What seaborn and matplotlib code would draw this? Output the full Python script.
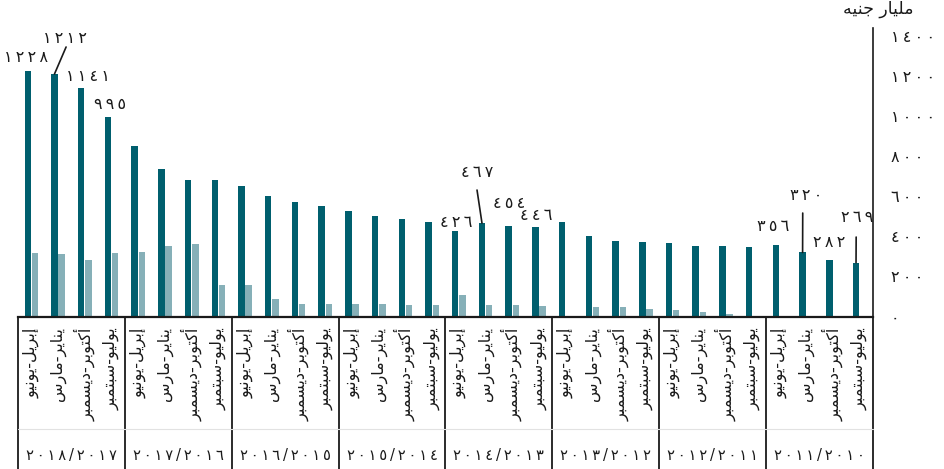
import matplotlib
matplotlib.use("Agg")
import matplotlib.pyplot as plt
import matplotlib.transforms as mtransforms
import seaborn as sns
import pandas as pd

# ---------------- data (left to right, as drawn) ----------------
years = ['٢٠١٨/٢٠١٧', '٢٠١٧/٢٠١٦', '٢٠١٦/٢٠١٥', '٢٠١٥/٢٠١٤',
         '٢٠١٤/٢٠١٣', '٢٠١٣/٢٠١٢', '٢٠١٢/٢٠١١', '٢٠١١/٢٠١٠']
quarters = ['إبريل-يونيو', 'يناير-مارس', 'أكتوبر-ديسمبر', 'يوليو-سبتمبر']
dark_values = [1228, 1212, 1141, 995, 854, 737, 682, 682,
               652, 602, 571, 552, 525, 503, 487, 473,
               426, 467, 454, 446, 473, 400, 378, 372,
               368, 352, 350, 345, 356, 320, 282, 269]
light_values = [316, 314, 282, 317, 324, 351, 364, 156,
                156, 87, 61, 62, 62, 62, 59, 59,
                106, 57, 57, 54, 0, 49, 46, 37,
                32, 22, 12, 0, 0, 0, 0, 0]
labelled = [0, 1, 2, 3, 16, 17, 18, 19, 28, 29, 30, 31]
unit_label = 'مليار جنيه'
y_ticks = [0, 200, 400, 600, 800, 1000, 1200, 1400]

# ---------------- Arabic shaping helpers ----------------
FORMS = {
    '\u0627': ('\uFE8D', '\uFE8E', None, None),
    '\u0623': ('\uFE83', '\uFE84', None, None),
    '\u0625': ('\uFE87', '\uFE88', None, None),
    '\u062F': ('\uFEA9', '\uFEAA', None, None),
    '\u0631': ('\uFEAD', '\uFEAE', None, None),
    '\u0648': ('\uFEED', '\uFEEE', None, None),
    '\u0628': ('\uFE8F', '\uFE90', '\uFE91', '\uFE92'),
    '\u062A': ('\uFE95', '\uFE96', '\uFE97', '\uFE98'),
    '\u062C': ('\uFE9D', '\uFE9E', '\uFE9F', '\uFEA0'),
    '\u0633': ('\uFEB1', '\uFEB2', '\uFEB3', '\uFEB4'),
    '\u0643': ('\uFED9', '\uFEDA', '\uFEDB', '\uFEDC'),
    '\u0644': ('\uFEDD', '\uFEDE', '\uFEDF', '\uFEE0'),
    '\u0645': ('\uFEE1', '\uFEE2', '\uFEE3', '\uFEE4'),
    '\u0646': ('\uFEE5', '\uFEE6', '\uFEE7', '\uFEE8'),
    '\u0647': ('\uFEE9', '\uFEEA', '\uFEEB', '\uFEEC'),
    '\u064A': ('\uFEF1', '\uFEF2', '\uFEF3', '\uFEF4'),
}


def shape(s):
    out = []
    for i, c in enumerate(s):
        if c not in FORMS:
            out.append(c)
            continue
        iso, fin, ini, med = FORMS[c]
        prev = s[i - 1] if i > 0 else ''
        nxt = s[i + 1] if i + 1 < len(s) else ''
        jp = prev in FORMS and FORMS[prev][2] is not None
        jn = ini is not None and nxt in FORMS
        if jp and jn:
            out.append(med)
        elif jp:
            out.append(fin)
        elif jn:
            out.append(ini)
        else:
            out.append(iso)
    return ''.join(reversed(out))


DIG = str.maketrans('0123456789', '٠١٢٣٤٥٦٧٨٩')
THIN = '\u2009'


def spaced(s):
    return THIN.join(s)


def ar_num(v):
    return spaced(str(v).translate(DIG))


# ---------------- long-form table ----------------
n = len(dark_values)
periods = [f'p{i:02d}' for i in range(n)]
df = pd.DataFrame({
    'period': periods * 2,
    'value': dark_values + light_values,
    'series': ['a'] * n + ['b'] * n,
})

DARK = '#005f6e'
LIGHT = '#86b0b8'
INK = '#1a1a1a'

sns.set_style('white')
plt.rcParams['font.family'] = ['DejaVu Sans']

fig = plt.figure(figsize=(9.45, 4.69), dpi=100)
W, H = 945, 469
ax = fig.add_axes([18 / W, (H - 316.5) / H, 855 / W, 288.5 / H])

sns.barplot(data=df, x='period', y='value', hue='series', order=periods,
            hue_order=['a', 'b'], palette={'a': DARK, 'b': LIGHT},
            width=0.54, gap=0.1, dodge=True, legend=False, ax=ax,
            saturation=1, linewidth=0)

ax.set_xlim(-0.5, n - 0.5)
ax.set_ylim(0, 1442)
ax.set_xlabel('')
ax.set_ylabel('')

for s in ['top', 'left']:
    ax.spines[s].set_visible(False)
ax.spines['bottom'].set_color(INK)
ax.spines['bottom'].set_linewidth(1.6)
ax.spines['right'].set_color(INK)
ax.spines['right'].set_linewidth(1.2)

ax.yaxis.tick_right()
ax.set_yticks(y_ticks)
ax.set_yticklabels([ar_num(v) for v in y_ticks], fontsize=11.5, color=INK)
ax.tick_params(axis='y', length=0, pad=13)

month_labels = [shape(quarters[i % 4]) for i in range(n)]
ax.set_xticks(range(n))
ax.set_xticklabels(month_labels, rotation=90, va='top', ha='center',
                   fontsize=11.5, color=INK)
ax.tick_params(axis='x', length=0, pad=8)

# separators and year labels under the axis
trans = mtransforms.blended_transform_factory(ax.transData, ax.transAxes)
for k in range(len(years) + 1):
    x = k * 4 - 0.5
    ax.plot([x, x], [0, -0.54], transform=trans, color=INK,
            lw=1.3, clip_on=False)
ax.plot([-0.5, n - 0.5], [-0.389, -0.389], transform=trans,
        color='#e2e2e2', lw=0.8, clip_on=False)
for k, yl in enumerate(years):
    ax.text(k * 4 + 1.5, -0.482, spaced(yl), transform=trans, ha='center',
            va='center', fontsize=10.5, color=INK)

# value labels (with leader lines where used)
label_pos = {
    0: (-0.2, 1297, False),
    1: (1.26, 1392, True),
    2: (2.12, 1202, False),
    3: (2.94, 1062, False),
    16: (15.89, 472, False),
    17: (16.68, 722, True),
    18: (17.88, 567, False),
    19: (18.89, 507, False),
    28: (27.76, 452, False),
    29: (28.99, 607, True),
    30: (29.85, 372, False),
    31: (30.9, 497, True),
}
leader_start = {1: (1.30, 1347), 17: (16.68, 632), 29: (28.87, 517),
                31: (30.87, 397)}
for i in labelled:
    tx, ty, lead = label_pos[i]
    v = dark_values[i]
    ax.text(tx, ty, ar_num(v), ha='center', va='center', fontsize=11.5,
            color=INK)
    if lead:
        sx, sy = leader_start[i]
        ax.plot([sx, i - 0.135], [sy, v], color=INK, lw=1.2, clip_on=False)

fig.text(878 / W, 1 - 9 / H, shape(unit_label), ha='center', va='center',
         fontsize=12.5, color=INK)

fig.savefig('out.png', dpi=100)
